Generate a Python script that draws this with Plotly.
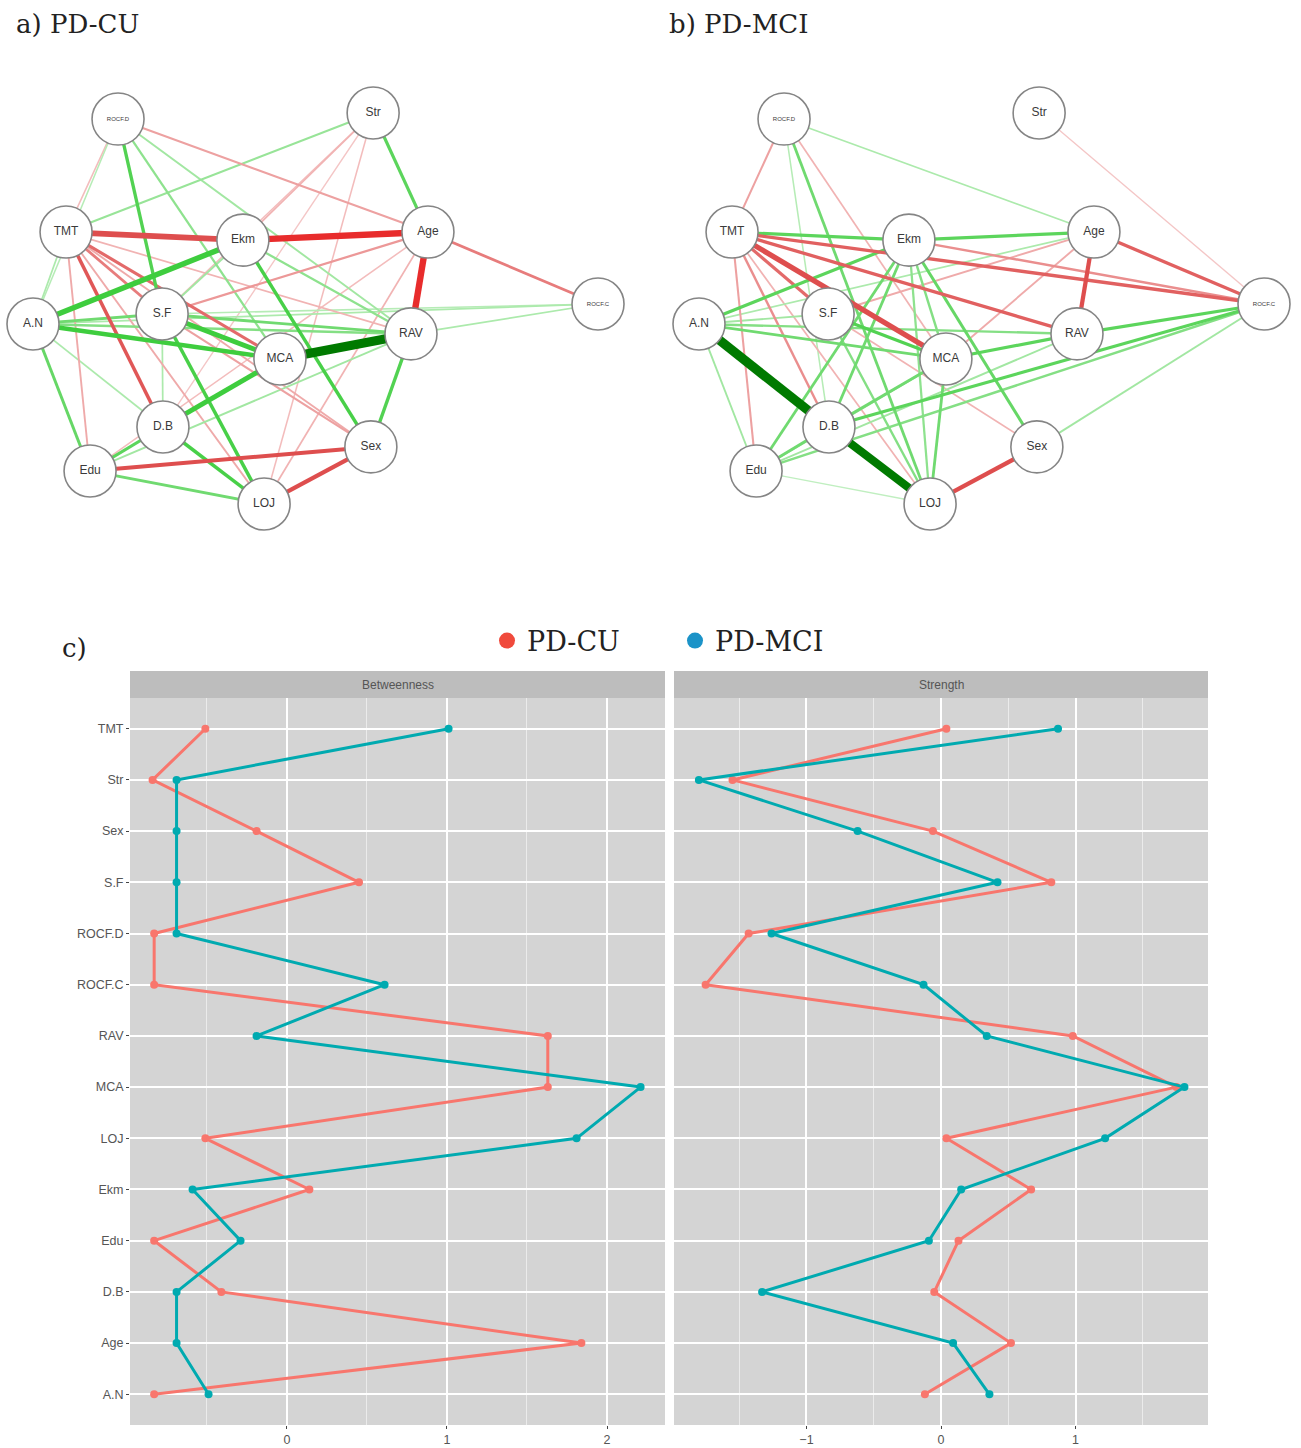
import plotly.graph_objects as go

# ---------------- network layout (shared by both groups) ----------------
nodes = ["ROCF.D", "Str", "TMT", "Ekm", "Age", "ROCF.C", "A.N",
         "S.F", "RAV", "MCA", "D.B", "Sex", "Edu", "LOJ"]
node_x = [-0.699, 0.204, -0.883, -0.257, 0.398, 1.000, -1.000,
          -0.543, 0.338, -0.126, -0.540, 0.196, -0.798, -0.182]
node_y = [0.969, 1.000, 0.391, 0.350, 0.391, 0.023, -0.079,
          -0.028, -0.130, -0.258, -0.606, -0.708, -0.831, -1.000]

# partial-correlation edges (from, to, weight)
edges_cu = [
    ("MCA", "RAV", 0.45), ("Ekm", "Age", -0.30), ("TMT", "Ekm", -0.26),
    ("Age", "RAV", -0.30), ("A.N", "Ekm", 0.25), ("A.N", "MCA", 0.20),
    ("S.F", "MCA", 0.22), ("MCA", "D.B", 0.22), ("A.N", "S.F", 0.10),
    ("S.F", "RAV", 0.10), ("A.N", "RAV", 0.08), ("A.N", "ROCF.C", 0.04),
    ("Str", "Age", 0.12), ("Str", "TMT", 0.06), ("ROCF.D", "S.F", 0.13),
    ("ROCF.D", "MCA", 0.07), ("ROCF.D", "RAV", 0.05), ("ROCF.D", "Age", -0.06),
    ("ROCF.D", "TMT", -0.03), ("ROCF.D", "A.N", 0.03), ("TMT", "D.B", -0.14),
    ("TMT", "MCA", -0.12), ("TMT", "S.F", -0.10), ("TMT", "LOJ", -0.05),
    ("TMT", "Sex", -0.05), ("TMT", "RAV", -0.04), ("TMT", "Edu", -0.05),
    ("TMT", "A.N", 0.04), ("Ekm", "Sex", 0.14), ("Ekm", "RAV", 0.07),
    ("Ekm", "S.F", 0.05), ("RAV", "Sex", 0.13), ("Age", "ROCF.C", -0.10),
    ("Age", "S.F", -0.07), ("Age", "LOJ", -0.04), ("Age", "Edu", -0.03),
    ("Str", "Ekm", -0.04), ("Str", "S.F", -0.03), ("Str", "LOJ", -0.03),
    ("Str", "D.B", -0.02), ("S.F", "LOJ", 0.14), ("D.B", "LOJ", 0.14),
    ("D.B", "Edu", 0.12), ("Edu", "Sex", -0.17), ("Sex", "LOJ", -0.18),
    ("Edu", "LOJ", 0.10), ("A.N", "Edu", 0.11), ("A.N", "D.B", 0.04),
    ("S.F", "Sex", -0.06), ("Edu", "RAV", 0.05), ("S.F", "D.B", 0.04),
    ("ROCF.C", "RAV", 0.04), ("ROCF.C", "S.F", 0.03),
]

edges_mci = [
    ("A.N", "D.B", 0.46), ("D.B", "LOJ", 0.40), ("TMT", "MCA", -0.24),
    ("Age", "RAV", -0.18), ("LOJ", "Sex", -0.18), ("TMT", "Ekm", 0.12),
    ("Ekm", "Age", 0.12), ("TMT", "ROCF.C", -0.13), ("TMT", "RAV", -0.13),
    ("TMT", "S.F", -0.12), ("TMT", "D.B", -0.08), ("TMT", "Edu", -0.06),
    ("TMT", "LOJ", -0.04), ("ROCF.D", "TMT", -0.06), ("ROCF.D", "LOJ", 0.10),
    ("ROCF.D", "Age", 0.04), ("ROCF.D", "MCA", -0.04), ("ROCF.D", "D.B", 0.03),
    ("Str", "ROCF.C", -0.02), ("Age", "ROCF.C", -0.13), ("Ekm", "ROCF.C", -0.08),
    ("Ekm", "A.N", 0.12), ("Ekm", "D.B", 0.10), ("Ekm", "Edu", 0.10),
    ("Ekm", "MCA", 0.08), ("Ekm", "Sex", 0.11), ("Ekm", "LOJ", 0.07),
    ("A.N", "MCA", 0.10), ("A.N", "RAV", 0.08), ("A.N", "Age", 0.04),
    ("A.N", "Edu", 0.05), ("S.F", "MCA", 0.13), ("S.F", "LOJ", 0.08),
    ("MCA", "RAV", 0.12), ("MCA", "LOJ", 0.10), ("MCA", "D.B", 0.10),
    ("RAV", "ROCF.C", 0.12), ("D.B", "ROCF.C", 0.12), ("Edu", "ROCF.C", 0.08),
    ("Sex", "ROCF.C", 0.05), ("S.F", "Age", -0.05), ("MCA", "Age", -0.05),
    ("Edu", "LOJ", 0.02), ("S.F", "Sex", -0.04), ("Edu", "D.B", 0.10),
    ("Edu", "RAV", 0.05), ("A.N", "S.F", 0.05), ("Edu", "MCA", 0.07),
]

# ---------------- centrality indices (z-scores) ----------------
items = ["TMT", "Str", "Sex", "S.F", "ROCF.D", "ROCF.C", "RAV",
         "MCA", "LOJ", "Ekm", "Edu", "D.B", "Age", "A.N"]
betw_cu = [-0.51, -0.84, -0.19, 0.45, -0.83, -0.83, 1.63,
           1.63, -0.51, 0.14, -0.83, -0.41, 1.84, -0.83]
betw_mci = [1.01, -0.69, -0.69, -0.69, -0.69, 0.61, -0.19,
            2.21, 1.81, -0.59, -0.29, -0.69, -0.69, -0.49]
str_cu = [0.04, -1.55, -0.06, 0.82, -1.43, -1.75, 0.98,
          1.75, 0.04, 0.67, 0.13, -0.05, 0.52, -0.12]
str_mci = [0.87, -1.80, -0.62, 0.42, -1.26, -0.13, 0.34,
           1.81, 1.22, 0.15, -0.09, -1.33, 0.09, 0.36]

groups = ["PD-CU", "PD-MCI"]
line_colors = ["#F8766D", "#00AAB0"]
legend_colors = ["#F04A3C", "#1B93C8"]

W, H = 1301, 1448
SERIF = "DejaVu Serif"
SANS = "Liberation Sans"


def py(p):
    """pixel row -> paper y"""
    return 1 - p / H


def px(p):
    return p / W


def blend(rgb, t):
    r, g, b = (round(255 + (c - 255) * t) for c in rgb)
    return f"rgb({r},{g},{b})"


def edge_style(w):
    a = abs(w)
    width = 1.0 + 18 * a
    if w > 0:
        if a >= 0.35:
            return width, "rgb(0,122,0)"
        base = (62, 205, 62)
    else:
        if a >= 0.28:
            return width, "rgb(232,44,44)"
        base = (222, 78, 78)
    t = 0.22 + 0.78 * min(1.0, a / 0.15)
    return width, blend(base, t)


fig = go.Figure()
idx = {n: i for i, n in enumerate(nodes)}


def add_network(edges, xa, ya):
    for a, b, w in sorted(edges, key=lambda e: abs(e[2])):
        width, col = edge_style(w)
        fig.add_trace(go.Scatter(
            x=[node_x[idx[a]], node_x[idx[b]]],
            y=[node_y[idx[a]], node_y[idx[b]]],
            mode="lines", line=dict(color=col, width=width),
            xaxis=xa, yaxis=ya, showlegend=False, hoverinfo="skip"))
    sizes = [6 if n.startswith("ROCF") else 12 for n in nodes]
    fig.add_trace(go.Scatter(
        x=node_x, y=node_y, mode="markers+text", text=nodes,
        textposition="middle center",
        textfont=dict(family=SANS, size=sizes, color="#3a3a3a"),
        marker=dict(size=52, color="white",
                    line=dict(color="#858585", width=1.6)),
        xaxis=xa, yaxis=ya, showlegend=False, hoverinfo="text"))


add_network(edges_cu, "x", "y")
add_network(edges_mci, "x2", "y2")

# centrality profile lines
for gi, g in enumerate(groups):
    for vals, xa, ya in [((betw_cu, betw_mci)[gi], "x3", "y3"),
                         ((str_cu, str_mci)[gi], "x4", "y4")]:
        fig.add_trace(go.Scatter(
            x=vals, y=items, mode="lines+markers", name=g,
            line=dict(color=line_colors[gi], width=3),
            marker=dict(color=line_colors[gi], size=8),
            xaxis=xa, yaxis=ya, showlegend=False))
    fig.add_trace(go.Scatter(
        x=[None], y=[None], mode="markers", name=g,
        marker=dict(color=legend_colors[gi], size=22),
        xaxis="x3", yaxis="y3", showlegend=True))

net_y_dom = [py(560), py(60)]
hidden = dict(visible=False, showgrid=False, zeroline=False, fixedrange=True)
fig.update_layout(
    width=W, height=H, margin=dict(l=0, r=0, t=0, b=0),
    paper_bgcolor="white", plot_bgcolor="white",
    xaxis=dict(domain=[0, 0.5], range=[-1.1168, 1.1858], **hidden),
    yaxis=dict(domain=net_y_dom, range=[-1.2864, 1.2711], **hidden),
    xaxis2=dict(domain=[0.5, 1.0], range=[-1.1717, 1.131], **hidden),
    yaxis2=dict(domain=net_y_dom, range=[-1.2864, 1.2711], **hidden,
                anchor="x2"),
)

cat_order = items[::-1]
panel_y = [py(1425), py(698)]
axis_common = dict(
    showgrid=True, gridcolor="white", gridwidth=1.6, zeroline=False,
    ticks="outside", ticklen=3, tickcolor="#444", tickwidth=1,
    showline=False, tickfont=dict(family=SANS, size=12.5, color="#555"),
)
minor = dict(showgrid=True, gridcolor="#ebebeb", gridwidth=0.9, ticks="")
fig.update_layout(
    xaxis3=dict(domain=[px(130), px(665)], range=[-0.981, 2.3625],
                tickvals=[0, 1, 2], anchor="y3",
                minor=dict(tickvals=[-0.5, 0.5, 1.5], **minor), **axis_common),
    yaxis3=dict(domain=panel_y, type="category", categoryarray=cat_order,
                categoryorder="array", range=[-0.6, 13.6], anchor="x3",
                **axis_common),
    xaxis4=dict(domain=[px(674), px(1208)], range=[-1.985, 1.985],
                tickvals=[-1, 0, 1], anchor="y4",
                minor=dict(tickvals=[-1.5, -0.5, 0.5, 1.5], **minor),
                **axis_common),
    yaxis4=dict(domain=panel_y, type="category", categoryarray=cat_order,
                categoryorder="array", range=[-0.6, 13.6], anchor="x4",
                showticklabels=False,
                **{k: v for k, v in axis_common.items() if k != "ticks"},
                ticks=""),
    legend=dict(orientation="h", x=px(487), y=py(641), xanchor="left",
                yanchor="middle", font=dict(family=SERIF, size=27, color="#222"),
                itemsizing="trace", bgcolor="rgba(0,0,0,0)",
                entrywidth=143, entrywidthmode="pixels", tracegroupgap=0),
)

shapes = []
annotations = []
for xa, ya, label in [("x3", "y3", "Betweenness"), ("x4", "y4", "Strength")]:
    shapes.append(dict(type="rect", xref=f"{xa} domain", yref=f"{ya} domain",
                       x0=0, x1=1, y0=0, y1=1, fillcolor="#D4D4D4",
                       line=dict(width=0), layer="below"))
    shapes.append(dict(type="rect", xref=f"{xa} domain", yref="paper",
                       x0=0, x1=1, y0=py(698), y1=py(671),
                       fillcolor="#BDBDBD", line=dict(width=0), layer="below"))
    annotations.append(dict(text=label, xref=f"{xa} domain", yref="paper",
                            x=0.5, y=py(685), showarrow=False,
                            font=dict(family=SANS, size=12, color="#555")))

for text, x0, y0 in [("a) PD-CU", 14, 24), ("b) PD-MCI", 667, 24), ("c)", 60, 648)]:
    annotations.append(dict(text=text, xref="paper", yref="paper",
                            x=px(x0), y=py(y0), xanchor="left", yanchor="middle",
                            showarrow=False,
                            font=dict(family=SERIF, size=26, color="#222")))

fig.update_layout(shapes=shapes, annotations=annotations)
fig.write_html("out.html")
